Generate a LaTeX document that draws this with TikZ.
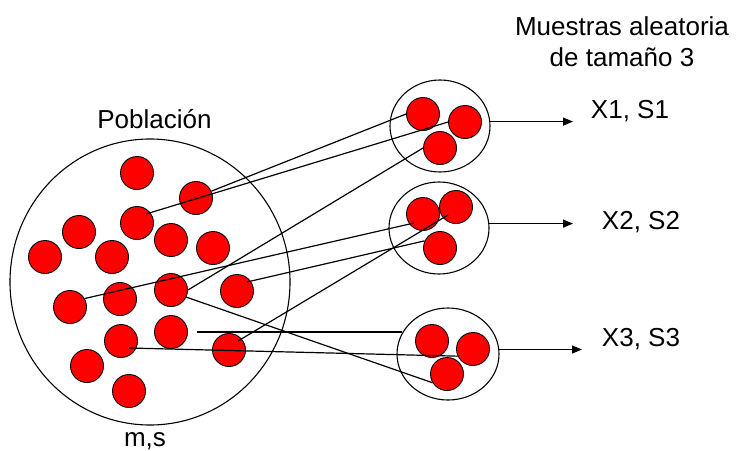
\documentclass[tikz,border=0pt]{standalone}
\usepackage{fontspec}
\setmainfont{Liberation Sans}
\usetikzlibrary{shapes.geometric,arrows.meta,calc}
\begin{document}
\begin{tikzpicture}[x=1pt,y=-1pt,
  ball/.style={circle,draw=black,fill=red,minimum size=33pt,inner sep=0pt,line width=0.9pt},
  sample/.style={ellipse,draw=black,minimum width=100pt,minimum height=92pt,inner sep=0pt,line width=1.1pt},
  link/.style={draw=black,line width=1.2pt},
  arr/.style={draw=black,line width=1.2pt,-{Triangle[length=10pt,width=8pt]}},
  lbl/.style={font=\fontsize{26}{31.7}\selectfont,inner sep=0pt,anchor=base}]
\useasboundingbox (0,0) rectangle (738,450);
% population
\node[ellipse,draw=black,line width=1.1pt,minimum width=280pt,minimum height=286pt,inner sep=0pt] (pop) at (150,282) {};
% samples
\node[sample] (ca) at (440,126) {};
\node[sample] (cb) at (439,228) {};
\node[sample,minimum width=102pt] (cc) at (448,354) {};
% population balls
\foreach \n/\x/\y in {1/137/173,2/196/198,3/137/223,4/79/232,5/45/257,6/112/257,7/171/240,8/213/248,9/70/307,10/120/299,11/171/290,12/237/291,13/121/341,14/171/332,15/87/366,16/229/350,17/129/391}
  \node[ball] (p\n) at (\x,\y) {};
% sample balls
\node[ball] (a1) at (423,114) {};
\node[ball] (a2) at (465,122) {};
\node[ball] (a3) at (440,148) {};
\node[ball] (b1) at (423,214) {};
\node[ball] (b2) at (456,207) {};
\node[ball] (b3) at (440,248) {};
\node[ball] (c1) at (432,341) {};
\node[ball] (c2) at (473,349) {};
\node[ball] (c3) at (447,374) {};
% free ends
\coordinate (l2s) at (146,214);
\coordinate (l4e) at (414,223);
\coordinate (l5s) at (247,282);
\coordinate (l6s) at (238,341);
\coordinate (l6e) at (448,215);
\coordinate (l7s) at (197,332);
\coordinate (l8s) at (129,348);
\coordinate (ea) at (573,0);
\coordinate (ec) at (582,0);
% links
\draw[link] (p2.24) -- (a1.west);
\draw[link] (l2s) -- (a2.west);
\draw[link] (p11.east) -- (a3.west);
\draw[link] (p9.30) -- (l4e);
\draw[link] (l5s) -- (b3.155);
\draw[link] (l6s) -- (l6e);
\draw[link] (l7s) -- (l7s -| cc.205);
\draw[link] (l8s) -- (c2.205);
\draw[link] (p11.-25) -- (c3.211);
% arrows
\draw[arr] (ca.5) -- (ca.5 -| ea);
\draw[arr] (cb.5) -- (cb.5 -| ea);
\draw[arr] (cc.5) -- (cc.5 -| ec);
% labels
\node[lbl,align=center] (title) at (622,66.7) {Muestras aleatoria\\de tamaño 3};
\node[lbl] (tpop) at (154.5,128) {Población};
\node[lbl] (tms) at (145,446) {m,s};
\node[lbl] (x1) at (630,118) {X1, S1};
\node[lbl] (x2) at (641,229) {X2, S2};
\node[lbl] (x3) at (641,346) {X3, S3};
\end{tikzpicture}
\end{document}
